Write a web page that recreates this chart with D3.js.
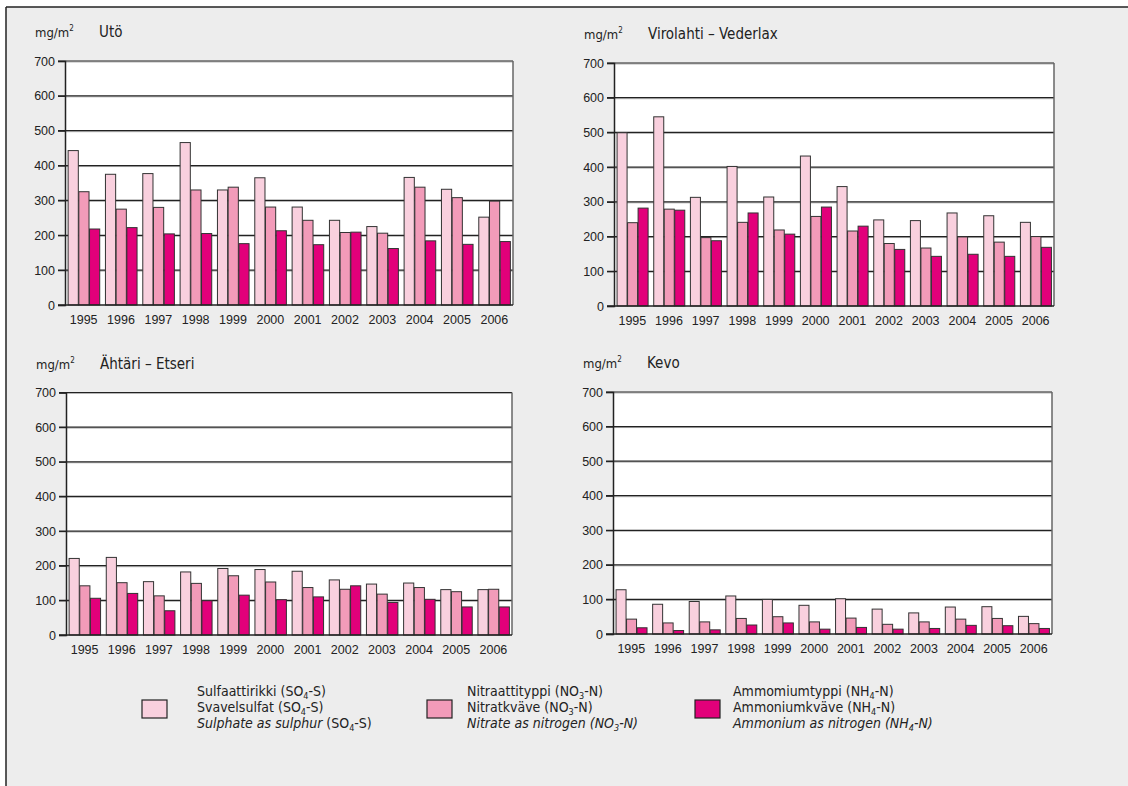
<!DOCTYPE html>
<html><head><meta charset="utf-8">
<script src="https://cdn.jsdelivr.net/npm/d3@7"></script>
<style>
html,body{margin:0;padding:0;background:#fff;}
svg{display:block;font-family:"Liberation Sans Narrow","DejaVu Sans Condensed","Roboto",sans-serif;}
</style></head>
<body><svg id="c" width="1128" height="786"></svg>
<script>
const years = ["1995","1996","1997","1998","1999","2000","2001","2002","2003","2004","2005","2006"];
const stations = ["Utö","Virolahti – Vederlax","Ähtäri – Etseri","Kevo"];
const yTicks = [0,100,200,300,400,500,600,700];
const seriesKeys = ["SO4","NO3","NH4"];
const seriesColors = ["#f9d0de","#f29bb9","#e2007a"];

const utoSO4 = [443,375,377,466,330,365,281,243,225,366,332,252];
const utoNO3 = [325,275,280,330,338,281,243,208,206,338,308,298];
const utoNH4 = [218,222,204,205,176,213,173,209,162,184,174,182];

const viroSO4 = [499,545,313,402,314,432,344,248,246,268,260,241];
const viroNO3 = [240,279,197,241,219,258,216,180,167,199,184,200];
const viroNH4 = [282,276,188,268,207,285,230,163,143,149,143,169];

const ahtSO4 = [221,224,154,182,192,189,184,159,147,150,131,131];
const ahtNO3 = [142,151,113,149,171,153,137,132,118,137,125,132];
const ahtNH4 = [106,120,70,99,115,102,110,142,94,103,81,81];

const kevoSO4 = [128,86,94,110,100,83,102,72,61,78,79,51];
const kevoNO3 = [43,32,35,45,50,35,46,28,35,43,45,30];
const kevoNH4 = [18,10,12,26,32,14,19,14,16,25,24,16];

const stationData = [
  [utoSO4, utoNO3, utoNH4],
  [viroSO4, viroNO3, viroNH4],
  [ahtSO4, ahtNO3, ahtNH4],
  [kevoSO4, kevoNO3, kevoNH4]
];

const layout = [
  {left:65, right:513, top:61, bottom:305},
  {left:614, right:1054, top:63, bottom:306},
  {left:66, right:512, top:392.5, bottom:635},
  {left:613, right:1052, top:392, bottom:634}
];

const svg = d3.select("#c");
// background and frame
svg.append("rect").attr("x",6).attr("y",7).attr("width",1122).attr("height",779).attr("fill","#ededed");
svg.append("line").attr("x1",6).attr("x2",1128).attr("y1",7).attr("y2",7).attr("stroke","#222").attr("stroke-width",1.5);
svg.append("line").attr("x1",6).attr("x2",6).attr("y1",7).attr("y2",786).attr("stroke","#222").attr("stroke-width",1.5);

stations.forEach((name,i)=>{
  const L = layout[i];
  const g = svg.append("g");
  const y = d3.scaleLinear().domain([0,700]).range([L.bottom,L.top]);
  const x0 = d3.scaleBand().domain(years).range([L.left,L.right]).paddingInner(0.14).paddingOuter(0.07);
  const x1 = d3.scaleBand().domain(seriesKeys).range([0,x0.bandwidth()]);

  g.append("rect").attr("x",L.left).attr("y",L.top).attr("width",L.right-L.left).attr("height",L.bottom-L.top).attr("fill","#fff");

  // grid lines
  yTicks.forEach(t=>{
    if(t===0) return;
    g.append("line").attr("x1",L.left).attr("x2",L.right).attr("y1",y(t)+1).attr("y2",y(t)+1).attr("stroke","#b5b5b5").attr("stroke-width",1);
    g.append("line").attr("x1",L.left-7).attr("x2",L.right).attr("y1",y(t)).attr("y2",y(t)).attr("stroke","#222").attr("stroke-width",1.2);
  });
  // right border
  g.append("line").attr("x1",L.right).attr("x2",L.right).attr("y1",L.top).attr("y2",L.bottom).attr("stroke","#666").attr("stroke-width",1.5);

  // y axis via d3
  const yAxis = d3.axisLeft(y).tickValues(yTicks).tickSize(7).tickPadding(3);
  const ag = g.append("g").attr("transform",`translate(${L.left},0)`).call(yAxis);
  ag.select(".domain").attr("stroke","#222").attr("stroke-width",1.5);
  ag.selectAll(".tick line").attr("stroke","#222").attr("stroke-width",1.2);
  ag.selectAll(".tick text").attr("font-size",12.5).attr("fill","#222").attr("font-family",null);

  // bars
  const groups = g.selectAll("g.yr").data(years).enter().append("g").attr("class","yr")
    .attr("transform",d=>`translate(${x0(d)},0)`);
  groups.selectAll("rect").data((d,j)=>seriesKeys.map((k,s)=>({k,s,v:stationData[i][s][j]}))).enter().append("rect")
    .attr("x",d=>x1(d.k)+0.5).attr("width",x1.bandwidth()-0.5)
    .attr("y",d=>y(d.v)).attr("height",d=>y(0)-y(d.v))
    .attr("fill",d=>seriesColors[d.s]).attr("stroke","#333").attr("stroke-width",1);

  // bottom axis line
  g.append("line").attr("x1",L.left-7).attr("x2",L.right).attr("y1",L.bottom).attr("y2",L.bottom).attr("stroke","#222").attr("stroke-width",1.5);

  // x labels via d3 axis
  const xAxis = d3.axisBottom(x0).tickSize(0).tickPadding(10);
  const xg = g.append("g").attr("transform",`translate(0,${L.bottom})`).call(xAxis);
  xg.select(".domain").remove();
  xg.selectAll(".tick text").attr("font-size",12.5).attr("fill","#222").attr("font-family",null);

  // titles
  const u = g.append("text").attr("x",L.left-30).attr("y",L.top-24).attr("font-size",13).attr("fill","#222");
  u.append("tspan").text("mg/m");
  u.append("tspan").attr("dy",-6).attr("font-size",8).text("2");
  g.append("text").attr("x",L.left+34).attr("y",L.top-24).attr("font-size",15).attr("fill","#222").text(name);
});

// legend
const legendItems = [
  {box:142, tx:197, lines:[["Sulfaattirikki (SO","4","-S)"],["Svavelsulfat (SO","4","-S)"],["Sulphate as sulphur"," (SO","4","-S)"]]},
  {box:427, tx:467, lines:[["Nitraattityppi (NO","3","-N)"],["Nitratkväve (NO","3","-N)"],["Nitrate as nitrogen (NO","3","-N)"]]},
  {box:695, tx:733, lines:[["Ammomiumtyppi (NH","4","-N)"],["Ammoniumkväve (NH","4","-N)"],["Ammonium as nitrogen (NH","4","-N)"]]}
];
const lg = svg.append("g");
legendItems.forEach((it,i)=>{
  lg.append("rect").attr("x",it.box).attr("y",700).attr("width",25).attr("height",18)
    .attr("fill",seriesColors[i]).attr("stroke","#222").attr("stroke-width",1.2);
  it.lines.forEach((parts,li)=>{
    const t = lg.append("text").attr("x",it.tx).attr("y",696+li*16).attr("font-size",14).attr("fill","#222");
    if(li===2 && i===0){
      t.append("tspan").attr("font-style","italic").text(parts[0]);
      t.append("tspan").text(parts[1]);
      t.append("tspan").attr("font-size",9).attr("dy",3).text(parts[2]);
      t.append("tspan").attr("dy",-3).text(parts[3]);
    } else {
      const it2 = li===2 ? "italic" : "normal";
      t.append("tspan").attr("font-style",it2).text(parts[0]);
      t.append("tspan").attr("font-style",it2).attr("font-size",9).attr("dy",3).text(parts[1]);
      t.append("tspan").attr("font-style",it2).attr("dy",-3).text(parts[2]);
    }
  });
});
</script></body></html>
